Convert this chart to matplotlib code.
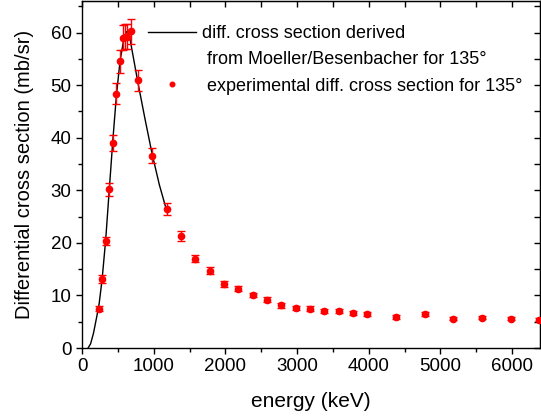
import matplotlib
matplotlib.use("Agg")
import matplotlib.pyplot as plt
from matplotlib.lines import Line2D
from matplotlib.ticker import MultipleLocator

plt.rcParams['font.family'] = ['Liberation Sans', 'DejaVu Sans']

# Theoretical curve (Moeller/Besenbacher)
curve_x = [85, 120, 160, 205, 240, 280, 330, 380, 430, 480, 530, 580, 620,
           660, 700, 780, 880, 980, 1080, 1190]
curve_y = [0.0, 0.8, 2.8, 5.9, 8.5, 13.0, 20.5, 30.0, 39.5, 48.0, 54.5, 58.5,
           60.2, 59.5, 56.5, 50.5, 43.5, 36.8, 31.0, 25.7]

# Experimental points
exp_x = [233, 279, 330, 381, 428, 479, 525, 572, 604, 628, 679, 776, 976,
         1181, 1376, 1581, 1781, 1980, 2180, 2380, 2580, 2780, 2980, 3180,
         3380, 3580, 3780, 3980, 4380, 4780, 5180, 5580, 5980, 6380]
exp_y = [7.5, 13.1, 20.4, 30.2, 39.0, 48.4, 54.5, 59.0, 59.2, 59.2, 60.2, 50.9,
         36.6, 26.4, 21.3, 17.0, 14.7, 12.1, 11.3, 10.1, 9.2, 8.1, 7.6, 7.5,
         7.0, 7.0, 6.6, 6.4, 5.9, 6.5, 5.6, 5.8, 5.6, 5.4]
exp_err = [0.45, 0.7, 0.8, 1.2, 1.5, 2.0, 2.2, 2.4, 2.4, 2.4, 2.4, 2.05, 1.5,
           1.1, 1.0, 0.73, 0.66, 0.57, 0.47, 0.44, 0.41, 0.44, 0.4, 0.4,
           0.38, 0.38, 0.38, 0.38, 0.35, 0.38, 0.35, 0.35, 0.35, 0.35]

fig = plt.figure(figsize=(5.41, 4.19), dpi=100)
ax = fig.add_axes([82/541, 71/419, 458/541, 347/419])

ax.plot(curve_x, curve_y, color='black', lw=1.0, zorder=2)
ax.errorbar(exp_x, exp_y, yerr=exp_err, fmt='o', color='red', ms=4.5,
            elinewidth=1.0, capsize=2.8, capthick=1.0, zorder=3)

ax.set_xlim(0, 6390)
ax.set_ylim(0, 66)
ax.xaxis.set_major_locator(MultipleLocator(1000))
ax.xaxis.set_minor_locator(MultipleLocator(500))
ax.yaxis.set_major_locator(MultipleLocator(10))
ax.yaxis.set_minor_locator(MultipleLocator(5))

for s in ax.spines.values():
    s.set_linewidth(1.0)

ax.tick_params(axis='both', which='both', labelsize=13.5, width=1.0)
ax.tick_params(axis='both', which='major', length=4)
ax.tick_params(axis='both', which='minor', length=3)
# mirrored ticks on top/right pointing inward
axt = ax.secondary_xaxis('top')
axt.set_xticks(ax.get_xticks())
axt.xaxis.set_minor_locator(MultipleLocator(500))
axt.tick_params(which='both', direction='in', labeltop=False, length=4, width=1.0)
axr = ax.secondary_yaxis('right')
axr.yaxis.set_minor_locator(MultipleLocator(5))
axr.tick_params(which='both', direction='in', labelright=False, length=4, width=1.0)

ax.set_xlabel('energy (keV)', fontsize=15, labelpad=12)
ax.set_ylabel('Differential cross section (mb/sr)', fontsize=14.5, labelpad=12)

handles = [Line2D([], [], color='black', lw=1.0),
           Line2D([], [], color='none'),
           Line2D([], [], color='red', marker='o', ls='none', ms=3.3)]
labels = ['diff. cross section derived',
          ' from Moeller/Besenbacher for 135°',
          ' experimental diff. cross section for 135°']
ax.legend(handles, labels, loc='upper left', bbox_to_anchor=(0.144, 0.931),
          frameon=False, fontsize=13, handlelength=2.67, handletextpad=0.33,
          borderpad=0, borderaxespad=0, labelspacing=0.52)

fig.savefig('out.png', dpi=100)
